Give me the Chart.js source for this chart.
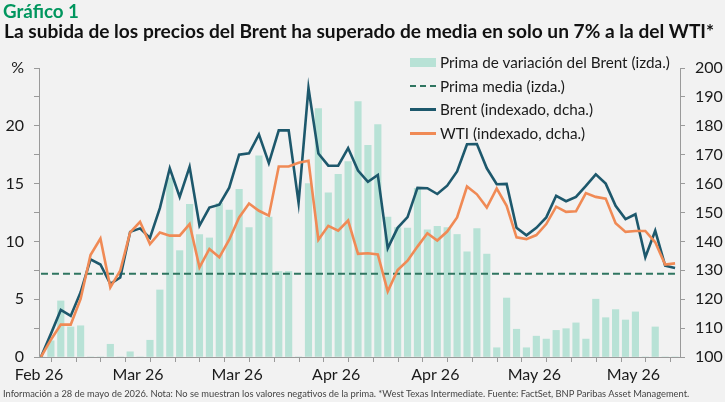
<!DOCTYPE html>
<html>
<head>
<meta charset="utf-8">
<script src="https://cdn.jsdelivr.net/npm/chart.js@4.4.1/dist/chart.umd.min.js"></script>
<style>
    html, body { margin: 0; padding: 0; background: #f2f2f2; }
    #wrap { position: relative; width: 725px; height: 402px; overflow: hidden; font-family: Lato, "Noto Sans", sans-serif; color: #1a1a1a; }
    #chartBox { position: absolute; left: 0; top: 0; width: 725px; height: 402px; }
    .fit { position: absolute; white-space: nowrap; display: inline-block; }
    #kicker { left: 3px; top: 0px; font-weight: 700; font-size: 18px; color: #00965e; }
    #title { left: 4px; top: 19px; font-weight: 700; font-size: 18px; color: #111; }
    #note { left: 3px; top: 388px; font-size: 10px; color: #444; }
    .leg { position: absolute; left: 410px; height: 20px; display: flex; align-items: center; }
    .sw { width: 26px; margin-right: 4px; }
    .sw.bar { height: 9px; background: #b8e2d6; }
    .sw.dash { height: 0; border-top: 2.5px dashed #2f7560; }
    .sw.brent { height: 3px; background: #1d586c; }
    .sw.wti { height: 3px; background: #f08a55; }
    .lt { font-size: 14px; white-space: nowrap; color: #1a1a1a; }
</style>
</head>
<body>
<div id="wrap">
    <div id="chartBox"><canvas id="chart"></canvas></div>
    <div id="kicker" class="fit" data-w="76">Gráfico 1</div>
    <div id="title" class="fit" data-w="711">La subida de los precios del Brent ha superado de media en solo un 7% a la del WTI*</div>
    <div id="note" class="fit" data-w="687">Información a 28 de mayo de 2026. Nota: No se muestran los valores negativos de la prima. *West Texas Intermediate. Fuente: FactSet, BNP Paribas Asset Management.</div>
    <div class="leg" style="top:52px"><span class="sw bar"></span><span class="lt" id="legFirst">Prima de variación del Brent (izda.)</span></div>
    <div class="leg" style="top:76px"><span class="sw dash"></span><span class="lt">Prima media (izda.)</span></div>
    <div class="leg" style="top:99px"><span class="sw brent"></span><span class="lt">Brent (indexado, dcha.)</span></div>
    <div class="leg" style="top:123px"><span class="sw wti"></span><span class="lt">WTI (indexado, dcha.)</span></div>
</div>
<script>
// Brent premium over WTI (%, left axis) - negatives not shown
const premium = [
    0, 1.4, 4.85, 2.6, 2.7, 0, 0, 1.1, 0, 0.45,
    0, 1.45, 5.8, 15.5, 9.2, 13.2, 10.6, 10.3, 13.3, 12.7,
    14.5, 11.2, 17.4, 12.1, 7.4, 7.4, 0, 15, 21.5, 14.2,
    15.8, 16.9, 22.1, 18.3, 20.1, 12.1, 11.2, 11.15, 14.6, 11,
    11.3, 11.2, 10.6, 9.1, 11.1, 8.9, 0.8, 5.1, 2.4, 0.8,
    1.8, 1.55, 2.3, 2.45, 2.95, 1.55, 5.0, 3.4, 4.1, 3.2,
    3.9, 0, 2.6, 0, 0
];
const premiumMean = 7.2;

// indexed prices (right axis)
const brent = [
    100, 108, 116.3, 114.2, 122.4, 133.8, 132, 125.3, 127.5, 143.3,
    144.5, 141.2, 151.5, 165.3, 155.4, 165.8, 145.5, 151.7, 152.7, 158.6,
    170, 170.5, 177, 167.1, 178.4, 178.4, 153.4, 193.1, 170.4, 166.2,
    166.2, 172.3, 164.5, 160.6, 163, 137.6, 144.7, 148.4, 158.5, 158.4,
    156.4, 159.3, 164.2, 173.6, 173.7, 165.3, 159.8, 159.9, 144.7, 142.1,
    144.7, 148.3, 155.8, 153.9, 155.4, 159.2, 163.2, 160, 152.3, 147.7,
    149.4, 134.5, 143.7, 131.6, 130.8
];
const wti = [
    100, 106, 111.2, 111.2, 120.1, 135.3, 141, 124.1, 129.9, 143.1,
    146.8, 139.1, 143.1, 142, 142, 146, 131, 137.4, 134.5, 140.6,
    148.3, 153.1, 150.6, 148.9, 165.9, 165.9, 167.2, 167.9, 140.6, 145.4,
    143.7, 147.2, 135.7, 135.9, 135.5, 122.7, 130.1, 133.3, 138.2, 142.8,
    140.3, 143.4, 148.3, 159, 156.3, 151.7, 158.3, 152.3, 141.4, 140.8,
    142.2, 146, 152, 150.2, 150.4, 156.7, 155.4, 154.8, 146.3, 143.3,
    143.6, 143.6, 139.7, 132, 132.4
];

// x axis labels, one every 4th tick
const xLabels = ['Feb 26', 'Mar 26', 'Mar 26', 'Apr 26', 'Apr 26', 'May 26', 'May 26'];

// squeeze the html texts to the width they take in the picture
document.querySelectorAll('.fit').forEach(el => {
    const target = +el.dataset.w;
    const fs = parseFloat(getComputedStyle(el).fontSize);
    el.style.fontSize = (fs * target / el.getBoundingClientRect().width) + 'px';
});
(function () {
    const first = document.getElementById('legFirst');
    const fs = 14 * 230 / first.getBoundingClientRect().width;
    document.querySelectorAll('.lt').forEach(t => t.style.fontSize = fs + 'px');
})();

const FONT = 'Lato, "Noto Sans", sans-serif';
const AXIS = '#9a9a9a';

const xy = arr => arr.map((v, i) => ({ x: i, y: v }));
const tickVals = [];
for (let k = 0; k <= 25; k++) tickVals.push(-0.2 + 2.5 * k);

new Chart(document.getElementById('chart'), {
    data: {
        datasets: [
            {
                type: 'line', label: 'WTI (indexado, dcha.)', data: xy(wti), yAxisID: 'y2',
                borderColor: '#f08a55', borderWidth: 2.6, pointRadius: 0, tension: 0, order: 1
            },
            {
                type: 'line', label: 'Brent (indexado, dcha.)', data: xy(brent), yAxisID: 'y2',
                borderColor: '#1d586c', borderWidth: 2.6, pointRadius: 0, tension: 0, order: 2
            },
            {
                type: 'line', label: 'Prima media (izda.)', data: xy(premium.map(() => premiumMean)), yAxisID: 'y',
                borderColor: '#2f7560', borderWidth: 2.2, borderDash: [7, 4], pointRadius: 0, order: 3
            },
            {
                type: 'bar', label: 'Prima de variación del Brent (izda.)', data: xy(premium), yAxisID: 'y',
                backgroundColor: '#b8e2d6', barThickness: 6.5, order: 4
            }
        ]
    },
    options: {
        responsive: true,
        maintainAspectRatio: false,
        animation: false,
        layout: { padding: { top: 68, left: 0, right: 0, bottom: 0 } },
        plugins: { legend: { display: false }, tooltip: { enabled: false } },
        scales: {
            x: {
                type: 'linear', min: -0.2, max: 64.5, offset: false,
                grid: { drawOnChartArea: false, tickLength: 5, color: AXIS },
                border: { display: true, color: AXIS },
                ticks: {
                    autoSkip: false, maxRotation: 0, padding: 3,
                    font: { family: FONT, size: 16 }, color: '#1a1a1a',
                    callback: (v, i) => (i % 4 === 0 ? xLabels[i / 4] : '')
                },
                afterBuildTicks: s => { s.ticks = tickVals.map(v => ({ value: v })); },
                afterFit: s => { s.height = 45; }
            },
            y: {
                position: 'left', min: 0, max: 25,
                grid: { drawOnChartArea: false, tickLength: 5, color: AXIS },
                border: { display: true, color: AXIS },
                ticks: {
                    stepSize: 2.5, padding: 10, autoSkip: false,
                    font: { family: FONT, size: 16 }, color: '#1a1a1a',
                    callback: v => (v === 25 ? '%' : (v % 5 === 0 ? v : ''))
                },
                afterFit: s => { s.width = 39; }
            },
            y2: {
                position: 'right', min: 100, max: 200,
                grid: { drawOnChartArea: false, tickLength: 5, color: AXIS },
                border: { display: true, color: AXIS },
                ticks: {
                    stepSize: 10, padding: 10,
                    font: { family: FONT, size: 16 }, color: '#1a1a1a'
                },
                afterFit: s => { s.width = 45; }
            }
        }
    }
});
</script>
</body>
</html>
